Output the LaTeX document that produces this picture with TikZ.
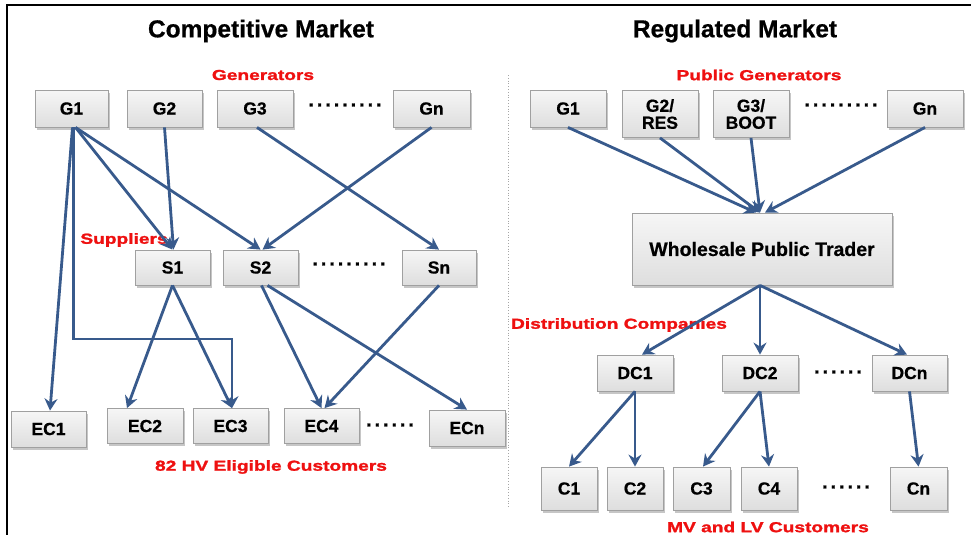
\documentclass[tikz,border=0pt]{standalone}
\usepackage{fontspec}
\setmainfont[BoldFeatures={FakeBold=0.6}]{Liberation Sans}
\newfontfamily\widefont[FakeStretch=1.32, BoldFeatures={FakeBold=1.6}]{Liberation Sans}
\newfontfamily\heavyfont[BoldFeatures={FakeBold=1.5}]{Liberation Sans}
\usetikzlibrary{arrows.meta,shadows,calc}
\definecolor{arrowblue}{RGB}{56,90,140}
\definecolor{boxedge}{RGB}{160,160,160}
\definecolor{labred}{RGB}{238,16,16}
\tikzset{
  box/.style={draw=boxedge, line width=0.8pt, top color=gray!7, bottom color=gray!26,
    drop shadow={shadow xshift=2pt, shadow yshift=-2.5pt, opacity=0.45},
    font=\bfseries\fontsize{17.5}{18}\selectfont, align=center, inner sep=0pt},
  flow/.style={draw=arrowblue, line width=2.8pt, -{Stealth[length=12pt,width=13pt,inset=4pt]}},
  redlab/.style={text=labred, font=\widefont\bfseries\fontsize{14.5}{16}\selectfont, inner sep=0pt},
  title/.style={font=\bfseries\fontsize{24.5}{26}\selectfont, inner sep=0pt},
  dotrow/.style={font=\heavyfont\bfseries\fontsize{19}{20}\selectfont, inner sep=0pt}
}
\begin{document}
\begin{tikzpicture}[x=1pt,y=-1pt]
\useasboundingbox (0,0) rectangle (971,535);
% frame
\draw[line width=2.5pt] (971,5) -- (7,5) -- (7,535);
% divider
\draw[gray!70, line width=0.8pt, dotted] (508,75) -- (508,508);
% titles
\node[title] (t1) at (261,31) {Competitive Market};
\node[title] (t2) at (735,31) {Regulated Market};
% red labels
\node[redlab] (lgen) at (263,75) {Generators};
\node[redlab] (lsup) at (124,240) {Suppliers};
\node[redlab] (lec) at (271,467) {82 HV Eligible Customers};
\node[redlab] (lpg) at (759,75) {Public Generators};
\node[redlab] (ldc) at (619,325) {Distribution Companies};
\node[redlab] (lmv) at (768,527) {MV and LV Customers};
% left boxes
\node[box, minimum width=73pt, minimum height=37pt] (G1) at (71.5,108.5) {G1};
\node[box, minimum width=75pt, minimum height=37pt] (G2) at (164.5,108.5) {G2};
\node[box, minimum width=76pt, minimum height=37pt] (G3) at (255,108.5) {G3};
\node[box, minimum width=77pt, minimum height=37pt] (Gn) at (431.5,108.5) {Gn};
\node[box, minimum width=75pt, minimum height=35pt] (S1) at (172.5,267.5) {S1};
\node[box, minimum width=75pt, minimum height=35pt] (S2) at (260.5,267.5) {S2};
\node[box, minimum width=74pt, minimum height=35pt] (Sn) at (439,267.5) {Sn};
\node[box, minimum width=75pt, minimum height=36pt] (EC1) at (48.5,429) {EC1};
\node[box, minimum width=76pt, minimum height=35pt] (EC2) at (145,426) {EC2};
\node[box, minimum width=75pt, minimum height=35pt] (EC3) at (230.5,426) {EC3};
\node[box, minimum width=75pt, minimum height=35pt] (EC4) at (321.5,426) {EC4};
\node[box, minimum width=76pt, minimum height=36pt] (ECn) at (467,428) {ECn};
\node[dotrow] (d1) at (345,105) {.\,.\,.\,.\,.\,.\,.\,.\,.};
\node[dotrow] (d2) at (349,264) {.\,.\,.\,.\,.\,.\,.\,.\,.};
\node[dotrow] (d3) at (390,425) {.\,.\,.\,.\,.\,.};
% right boxes
\node[box, minimum width=76pt, minimum height=37pt] (RG1) at (568,108.5) {G1};
\node[box, minimum width=76pt, minimum height=47pt] (RG2) at (660,114) {G2/\\[-1pt]RES};
\node[box, minimum width=76pt, minimum height=47pt] (RG3) at (751,114) {G3/\\[-1pt]BOOT};
\node[box, minimum width=76pt, minimum height=37pt] (RGn) at (925,108.5) {Gn};
\node[box, minimum width=260pt, minimum height=72pt, font=\bfseries\fontsize{19.5}{20}\selectfont] (WPT) at (762,249) {Wholesale Public Trader};
\node[box, minimum width=76pt, minimum height=36pt] (DC1) at (635,373) {DC1};
\node[box, minimum width=76pt, minimum height=36pt] (DC2) at (760,373) {DC2};
\node[box, minimum width=75pt, minimum height=36pt] (DCn) at (909.5,373) {DCn};
\node[box, minimum width=56pt, minimum height=43pt] (C1) at (569,488.5) {C1};
\node[box, minimum width=56pt, minimum height=43pt] (C2) at (635,488.5) {C2};
\node[box, minimum width=57pt, minimum height=43pt] (C3) at (701.5,488.5) {C3};
\node[box, minimum width=56pt, minimum height=43pt] (C4) at (769,488.5) {C4};
\node[box, minimum width=57pt, minimum height=43pt] (Cn) at (918.5,488.5) {Cn};
\node[dotrow] (d4) at (841,105) {.\,.\,.\,.\,.\,.\,.\,.\,.};
\node[dotrow] (d5) at (838,372) {.\,.\,.\,.\,.\,.};
\node[dotrow] (d6) at (846,487) {.\,.\,.\,.\,.\,.};
% left arrows
\coordinate (elb) at (232,339);
\draw[flow] ([xshift=1pt]G1.south) -- ([xshift=1.5pt]EC1.north);
\draw[flow] ([xshift=2pt]G1.south) |- (elb) -- ([xshift=1.5pt]EC3.north);
\draw[flow] ([xshift=4pt]G1.south) -- (S1.north);
\draw[flow] ([xshift=4pt]G1.south) -- (S2.north);
\draw[flow] (G2.south) -- ([xshift=1pt]S1.north);
\draw[flow] ([xshift=2pt]G3.south) -- (Sn.north);
\draw[flow] (Gn.south) -- ([xshift=2pt]S2.north);
\draw[flow] (S1.south) -- ([xshift=-18pt]EC2.north);
\draw[flow] (S1.south) -- ([xshift=1.5pt]EC3.north);
\draw[flow] ([xshift=1pt]S2.south) -- (EC4.north);
\draw[flow] ([xshift=7pt]S2.south) -- (ECn.north);
\draw[flow] (Sn.south) -- ([xshift=3pt]EC4.north);
% right arrows
\draw[flow] (RG1.south) -- ([xshift=-6pt]WPT.north);
\draw[flow] (RG2.south) -- ([xshift=-2pt]WPT.north);
\draw[flow] (RG3.south) -- ([xshift=-2pt]WPT.north);
\draw[flow] (RGn.south) -- ([xshift=3pt]WPT.north);
\draw[flow] ([xshift=-2pt]WPT.south) -- ([xshift=7pt]DC1.north);
\draw[flow] ([xshift=-2pt]WPT.south) -- (DC2.north);
\draw[flow] ([xshift=-2pt]WPT.south) -- ([xshift=-2.5pt]DCn.north);
\draw[flow] (DC1.south) -- (C1.north);
\draw[flow] (DC1.south) -- (C2.north);
\draw[flow] (DC2.south) -- ([xshift=1.5pt]C3.north);
\draw[flow] (DC2.south) -- (C4.north);
\draw[flow] (DCn.south) -- (Cn.north);
\end{tikzpicture}
\end{document}
